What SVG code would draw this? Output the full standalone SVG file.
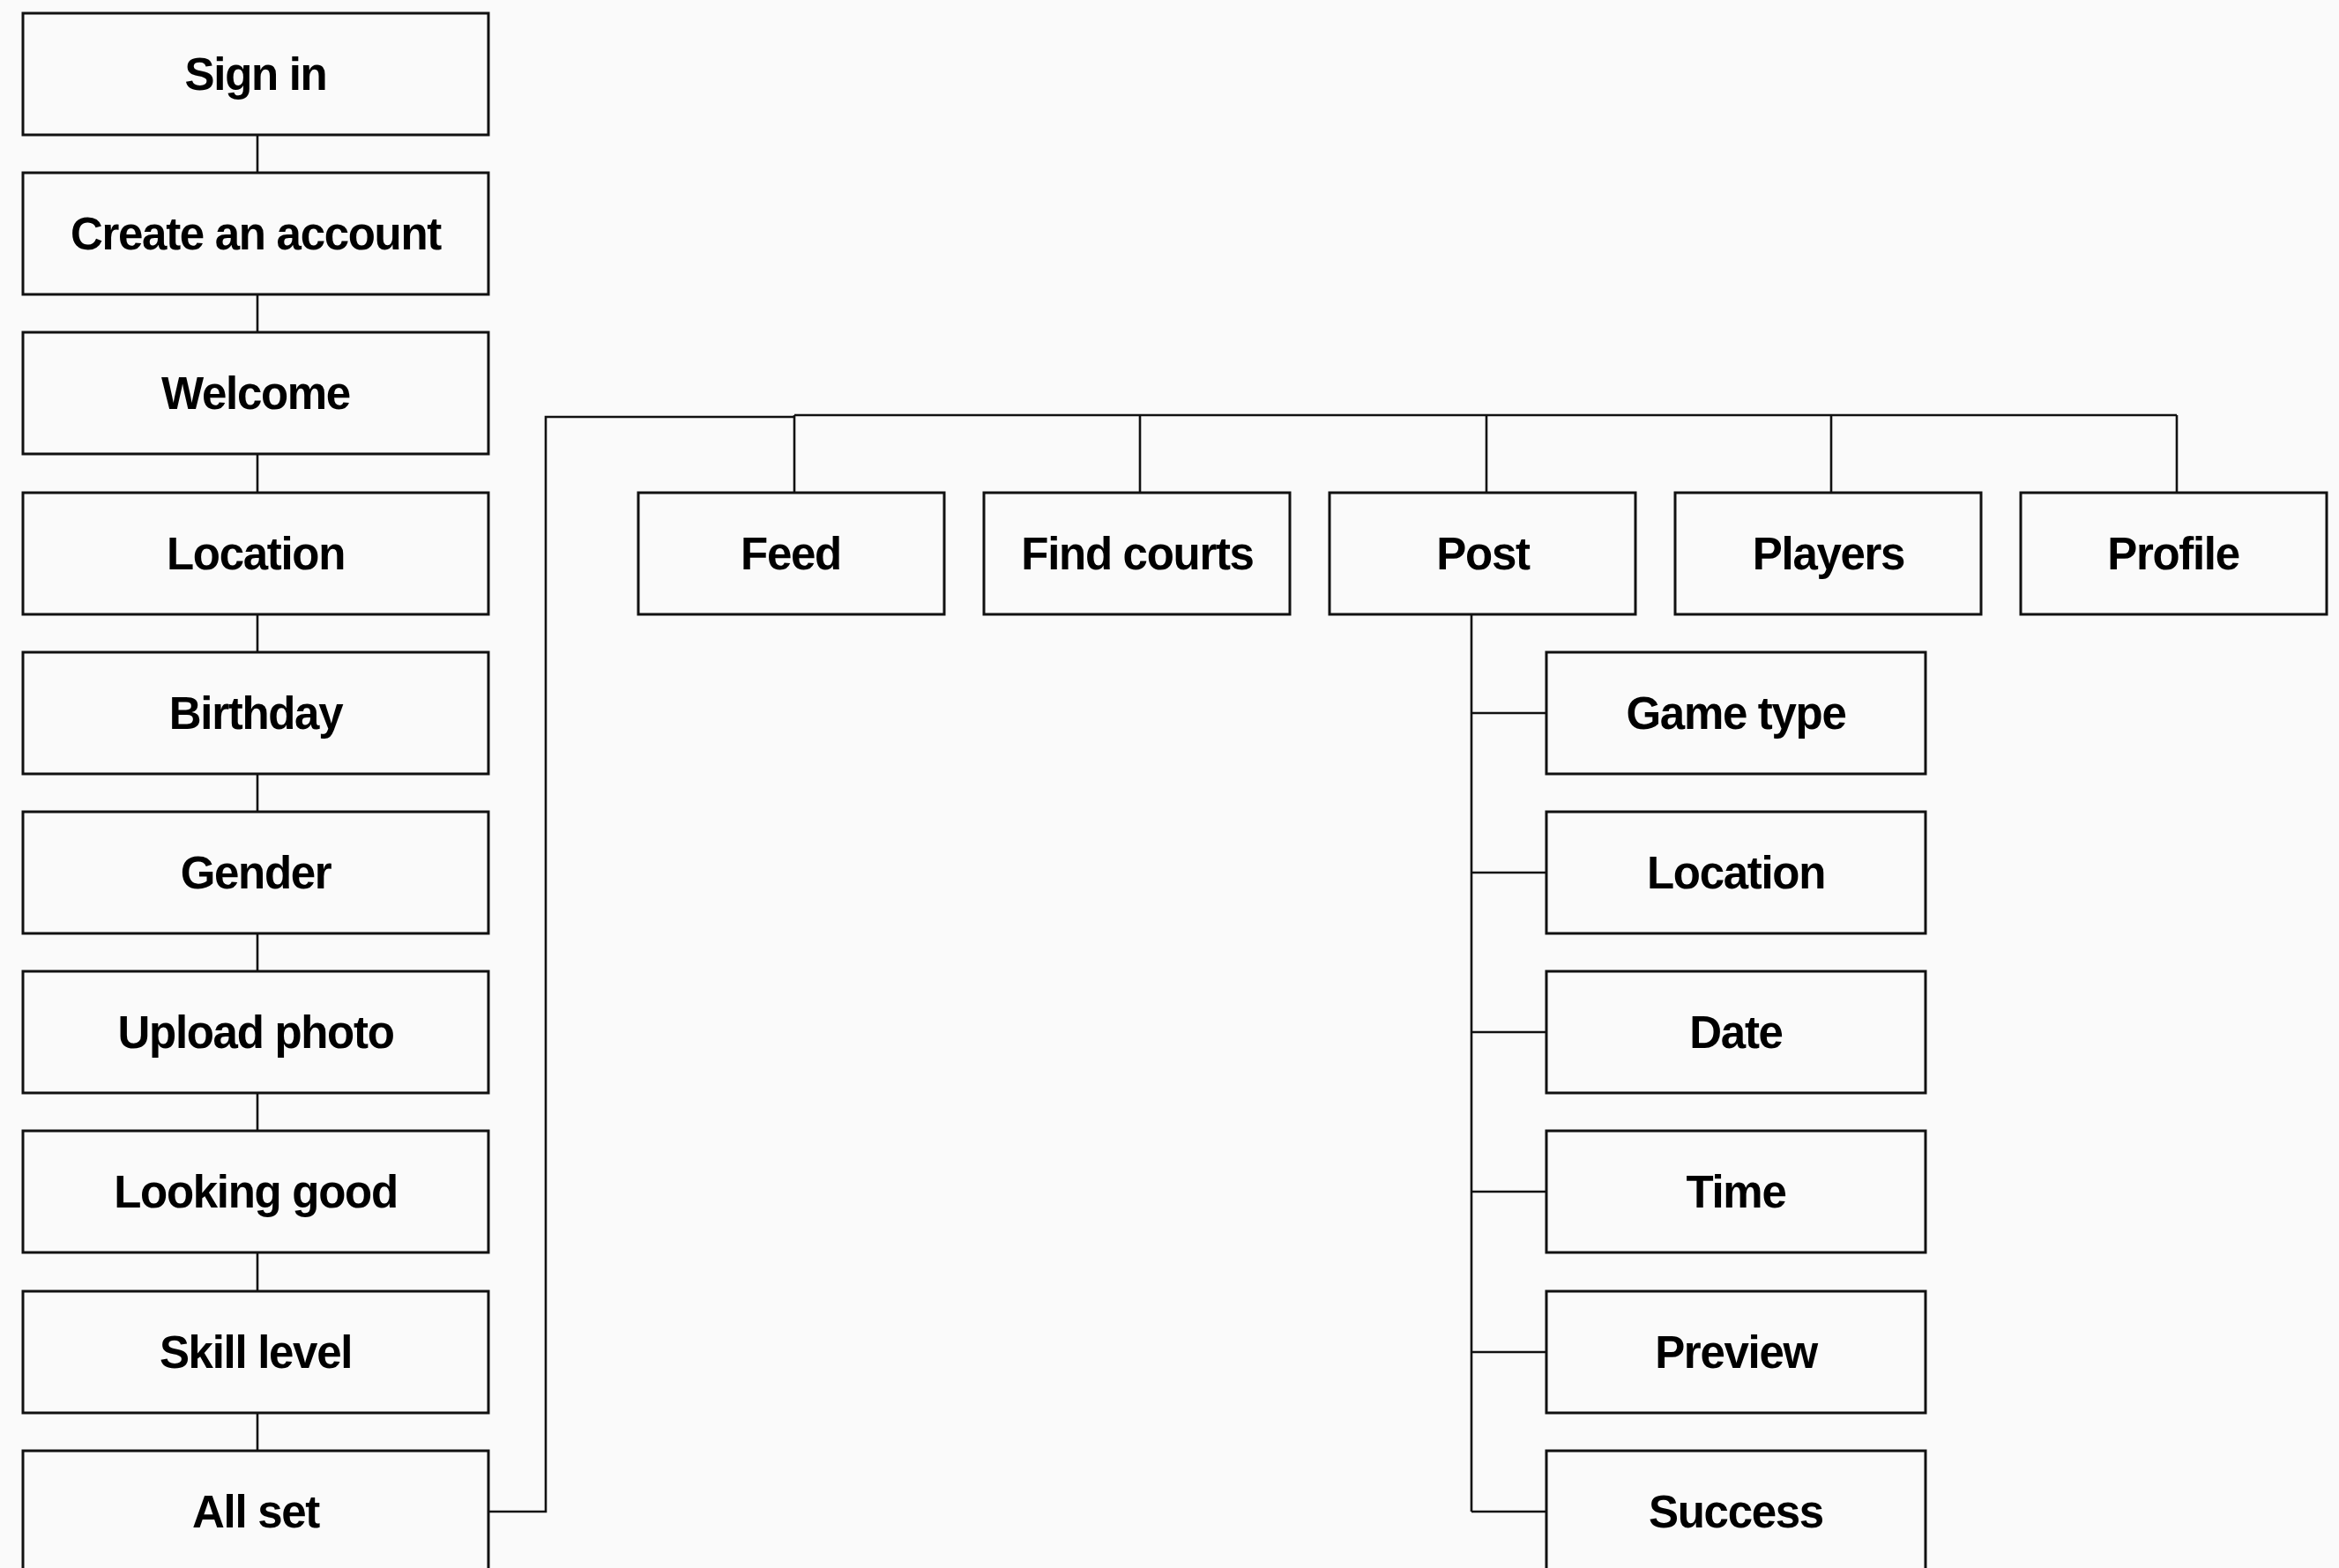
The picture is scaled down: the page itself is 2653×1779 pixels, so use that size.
<svg xmlns="http://www.w3.org/2000/svg" width="2653" height="1779" viewBox="0 0 2653 1779">
<style>
.box{fill:#fafafa;stroke:#111;stroke-width:3}
.lbl{font-family:"Liberation Sans",Arial,sans-serif;font-weight:bold;font-size:51px;letter-spacing:-1.3px;fill:#000;text-anchor:middle}
.ln{fill:none;stroke:#111;stroke-width:2.6}
</style>
<rect width="2653" height="1779" fill="#fafafa"/>
<g id="connectors">
<path class="ln" d="M292 153V196M292 334V377M292 515V559M292 697V740M292 878V921M292 1059V1102M292 1240V1283M292 1421V1465M292 1603V1646"/>
<path class="ln" d="M554 1715H619V473H901"/>
<path class="ln" d="M901 471H2469M901 471V559M1293 471V559M1686 471V559M2077 471V559M2469 471V559"/>
<path class="ln" d="M1669 697V1715M1669 809H1754M1669 990H1754M1669 1171H1754M1669 1352H1754M1669 1534H1754M1669 1715H1754"/>
</g>
<g id="n-signin"><rect class="box" x="26" y="15" width="528" height="138"/><text class="lbl" x="290" y="102">Sign in</text></g>
<g id="n-create"><rect class="box" x="26" y="196" width="528" height="138"/><text class="lbl" x="290" y="283">Create an account</text></g>
<g id="n-welcome"><rect class="box" x="26" y="377" width="528" height="138"/><text class="lbl" x="290" y="464">Welcome</text></g>
<g id="n-location"><rect class="box" x="26" y="559" width="528" height="138"/><text class="lbl" x="290" y="646">Location</text></g>
<g id="n-birthday"><rect class="box" x="26" y="740" width="528" height="138"/><text class="lbl" x="290" y="827">Birthday</text></g>
<g id="n-gender"><rect class="box" x="26" y="921" width="528" height="138"/><text class="lbl" x="290" y="1008">Gender</text></g>
<g id="n-upload"><rect class="box" x="26" y="1102" width="528" height="138"/><text class="lbl" x="290" y="1189">Upload photo</text></g>
<g id="n-looking"><rect class="box" x="26" y="1283" width="528" height="138"/><text class="lbl" x="290" y="1370">Looking good</text></g>
<g id="n-skill"><rect class="box" x="26" y="1465" width="528" height="138"/><text class="lbl" x="290" y="1552">Skill level</text></g>
<g id="n-allset"><rect class="box" x="26" y="1646" width="528" height="138"/><text class="lbl" x="290" y="1733">All set</text></g>
<g id="n-feed"><rect class="box" x="724" y="559" width="347" height="138"/><text class="lbl" x="897" y="646">Feed</text></g>
<g id="n-findcourts"><rect class="box" x="1116" y="559" width="347" height="138"/><text class="lbl" x="1290" y="646">Find courts</text></g>
<g id="n-post"><rect class="box" x="1508" y="559" width="347" height="138"/><text class="lbl" x="1682" y="646">Post</text></g>
<g id="n-players"><rect class="box" x="1900" y="559" width="347" height="138"/><text class="lbl" x="2074" y="646">Players</text></g>
<g id="n-profile"><rect class="box" x="2292" y="559" width="347" height="138"/><text class="lbl" x="2465" y="646">Profile</text></g>
<g id="n-gametype"><rect class="box" x="1754" y="740" width="430" height="138"/><text class="lbl" x="1969" y="827">Game type</text></g>
<g id="n-plocation"><rect class="box" x="1754" y="921" width="430" height="138"/><text class="lbl" x="1969" y="1008">Location</text></g>
<g id="n-date"><rect class="box" x="1754" y="1102" width="430" height="138"/><text class="lbl" x="1969" y="1189">Date</text></g>
<g id="n-time"><rect class="box" x="1754" y="1283" width="430" height="138"/><text class="lbl" x="1969" y="1370">Time</text></g>
<g id="n-preview"><rect class="box" x="1754" y="1465" width="430" height="138"/><text class="lbl" x="1969" y="1552">Preview</text></g>
<g id="n-success"><rect class="box" x="1754" y="1646" width="430" height="138"/><text class="lbl" x="1969" y="1733">Success</text></g>
</svg>
